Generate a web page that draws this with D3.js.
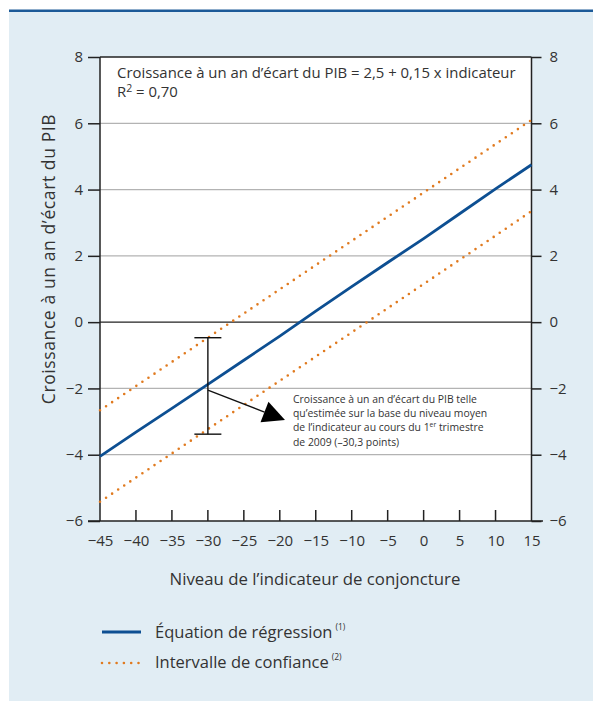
<!DOCTYPE html>
<html lang="fr">
<head>
<meta charset="UTF-8">
<title>Indicateur de conjoncture</title>
<script src="https://cdnjs.cloudflare.com/ajax/libs/d3/7.8.5/d3.min.js"></script>
<style>
  body { margin: 0; background: #fff; }
  svg text { font-family: "Open Sans", "Noto Sans", sans-serif; fill: #333; }
</style>
</head>
<body>
<div id="chart"></div>
<script>
// niveau de l'indicateur (axe x)
var indicateur = [-45, -40, -35, -30, -25, -20, -15, -10, -5, 0, 5, 10, 15];
// croissance à un an d'écart du PIB, droite de régression
var regression = [-4.05, -3.32, -2.6, -1.88, -1.15, -0.42, 0.33, 1.07, 1.8, 2.52, 3.27, 4.02, 4.75];
// intervalle de confiance
var borneHaute = [-2.66, -1.93, -1.2, -0.47, 0.26, 0.99, 1.72, 2.45, 3.18, 3.91, 4.64, 5.37, 6.1];
var borneBasse = [-5.42, -4.69, -3.96, -3.23, -2.5, -1.77, -1.04, -0.31, 0.42, 1.15, 1.88, 2.61, 3.35];

var xTicks = [-45, -40, -35, -30, -25, -20, -15, -10, -5, 0, 5, 10, 15];
var yTicks = [-6, -4, -2, 0, 2, 4, 6, 8];

// estimation T1 2009 (-30,3 points)
var estimX = -30;
var estimY = -1.9;
var estimHaut = -0.47;
var estimBas = -3.38;

var W = 593, H = 701;
var svg = d3.select("#chart").append("svg").attr("width", W).attr("height", H);

svg.append("rect").attr("x", 9).attr("y", 11).attr("width", W - 9).attr("height", H - 11).attr("fill", "#e1edf4");
svg.append("rect").attr("x", 9).attr("y", 9.5).attr("width", W - 9).attr("height", 2.5).attr("fill", "#1c5a98");

var x = d3.scaleLinear().domain([-45, 15]).range([100, 531.5]);
var y = d3.scaleLinear().domain([-6, 8]).range([521, 57]);

svg.append("rect").attr("x", x(-45)).attr("y", y(8)).attr("width", x(15) - x(-45)).attr("height", y(-6) - y(8)).attr("fill", "#fff");

// quadrillage
svg.selectAll(".grid").data(yTicks.filter(function(d) { return d != 0 && d != 8 && d != -6; }))
  .enter().append("line")
  .attr("x1", x(-45)).attr("x2", x(15))
  .attr("y1", function(d) { return y(d); }).attr("y2", function(d) { return y(d); })
  .attr("stroke", "#b3b3b3").attr("stroke-width", 1.2);

// axes gauche et droit
var yLeft = d3.axisLeft(y).tickValues(yTicks).tickSize(12).tickPadding(5).tickFormat(d3.format("d"));
var yRight = d3.axisRight(y).tickValues(yTicks).tickSize(10).tickPadding(8).tickFormat(d3.format("d"));
var gl = svg.append("g").attr("transform", "translate(" + x(-45) + ",0)").call(yLeft);
var gr = svg.append("g").attr("transform", "translate(" + x(15) + ",0)").call(yRight);
[gl, gr].forEach(function(g) {
  g.select(".domain").remove();
  g.selectAll("line").attr("stroke", "#222").attr("stroke-width", 1.5);
  g.selectAll("text").attr("font-size", 15).attr("fill", "#333");
});

svg.append("line").attr("x1", x(-45)).attr("x2", x(-45)).attr("y1", y(8)).attr("y2", y(-6)).attr("stroke", "#222").attr("stroke-width", 1.5);
svg.append("line").attr("x1", x(15)).attr("x2", x(15)).attr("y1", y(8)).attr("y2", y(-6)).attr("stroke", "#222").attr("stroke-width", 1.5);
svg.append("line").attr("x1", x(-45)).attr("x2", x(15)).attr("y1", y(8)).attr("y2", y(8)).attr("stroke", "#222").attr("stroke-width", 1.5);
svg.append("line").attr("x1", x(-45)).attr("x2", x(15)).attr("y1", y(0)).attr("y2", y(0)).attr("stroke", "#222").attr("stroke-width", 1.3);

// axe x, graduations vers l'intérieur
var xAxis = d3.axisBottom(x).tickValues(xTicks).tickSize(0).tickPadding(14).tickFormat(d3.format("d"));
var gx = svg.append("g").attr("transform", "translate(0," + y(-6) + ")").call(xAxis);
gx.select(".domain").remove();
gx.selectAll("text").attr("font-size", 15).attr("fill", "#333");
gx.append("line").attr("x1", 88).attr("x2", 543).attr("y1", 0).attr("y2", 0).attr("stroke", "#222").attr("stroke-width", 1.5);
gx.selectAll(".inner").data(xTicks.slice(1, -1)).enter().append("line")
  .attr("x1", function(d) { return x(d); }).attr("x2", function(d) { return x(d); })
  .attr("y1", 0).attr("y2", -11).attr("stroke", "#222").attr("stroke-width", 1.5);

// intervalle de confiance
var line = d3.line().x(function(d) { return x(d[0]); }).y(function(d) { return y(d[1]); });
[borneHaute, borneBasse].forEach(function(s) {
  svg.append("path").datum(d3.zip(indicateur, s)).attr("d", line)
    .attr("fill", "none").attr("stroke", "#e07a1f").attr("stroke-width", 2.6)
    .attr("stroke-linecap", "round").attr("stroke-dasharray", "0 7.3");
});

// droite de régression
svg.append("path").datum(d3.zip(indicateur, regression)).attr("d", line)
  .attr("fill", "none").attr("stroke", "#0d4f92").attr("stroke-width", 2.8);

// barre d'estimation
var eb = svg.append("g").attr("stroke", "#111").attr("stroke-width", 1.4);
eb.append("line").attr("x1", x(estimX)).attr("x2", x(estimX)).attr("y1", y(estimHaut)).attr("y2", y(estimBas));
eb.append("line").attr("x1", x(estimX) - 13.5).attr("x2", x(estimX) + 13.5).attr("y1", y(estimHaut)).attr("y2", y(estimHaut));
eb.append("line").attr("x1", x(estimX) - 13.5).attr("x2", x(estimX) + 13.5).attr("y1", y(estimBas)).attr("y2", y(estimBas));

// flèche
var x0 = x(estimX), y0 = y(estimY) + 5;
var tipX = 285, tipY = 420;
var ang = Math.atan2(tipY - y0, tipX - x0);
var headLen = 22, headHalf = 11;
var bx = tipX - headLen * Math.cos(ang), by = tipY - headLen * Math.sin(ang);
svg.append("line").attr("x1", x0).attr("y1", y0).attr("x2", bx).attr("y2", by).attr("stroke", "#111").attr("stroke-width", 1.4);
svg.append("path")
  .attr("d", "M" + tipX + "," + tipY +
    "L" + (bx + headHalf * Math.sin(ang)) + "," + (by - headHalf * Math.cos(ang)) +
    "L" + (bx - headHalf * Math.sin(ang)) + "," + (by + headHalf * Math.cos(ang)) + "Z")
  .attr("fill", "#000");

// note, une ligne par texte
["Croissance à un an d’écart du PIB telle",
 "qu’estimée sur la base du niveau moyen",
 "de l’indicateur au cours du 1", "de 2009 (–30,3 points)"].forEach(function(t, i) {
  var n = svg.append("text").attr("font-size", 10.4).attr("x", 293).attr("y", 403 + i * 14.2);
  n.append("tspan").text(t);
  if (i == 2) {
    n.append("tspan").attr("font-size", 6.8).attr("dy", -4).text("er");
    n.append("tspan").attr("dy", 4).text(" trimestre");
  }
});

// équation
svg.append("text").attr("x", 117).attr("y", 78).attr("font-size", 14.9)
  .text("Croissance à un an d’écart du PIB = 2,5 + 0,15 x indicateur");
var r2 = svg.append("text").attr("x", 117).attr("y", 97).attr("font-size", 14.9);
r2.append("tspan").text("R");
r2.append("tspan").attr("font-size", 10.5).attr("dy", -5).text("2");
r2.append("tspan").attr("dy", 5).text(" = 0,70");

// titres des axes
svg.append("text").attr("transform", "translate(55," + 259 + ") rotate(-90)")
  .attr("text-anchor", "middle").attr("font-size", 17.5).attr("letter-spacing", 0.6)
  .text("Croissance à un an d’écart du PIB");
svg.append("text").attr("x", 315).attr("y", 585).attr("text-anchor", "middle").attr("font-size", 16.8)
  .text("Niveau de l’indicateur de conjoncture");

// légende
var leg = svg.append("g");
leg.append("line").attr("x1", 102).attr("x2", 141).attr("y1", 632).attr("y2", 632)
  .attr("stroke", "#0d4f92").attr("stroke-width", 2.8);
leg.append("line").attr("x1", 102).attr("x2", 141).attr("y1", 663).attr("y2", 663)
  .attr("stroke", "#e07a1f").attr("stroke-width", 2.6).attr("stroke-linecap", "round").attr("stroke-dasharray", "0 7.3");
[["Équation de régression", "(1)", 638], ["Intervalle de confiance", "(2)", 668]].forEach(function(l) {
  var t = leg.append("text").attr("x", 155).attr("y", l[2]).attr("font-size", 16.5);
  t.append("tspan").text(l[0]);
  t.append("tspan").attr("font-size", 8.5).attr("dx", 3).attr("dy", -8).text(l[1]);
});
</script>
</body>
</html>
